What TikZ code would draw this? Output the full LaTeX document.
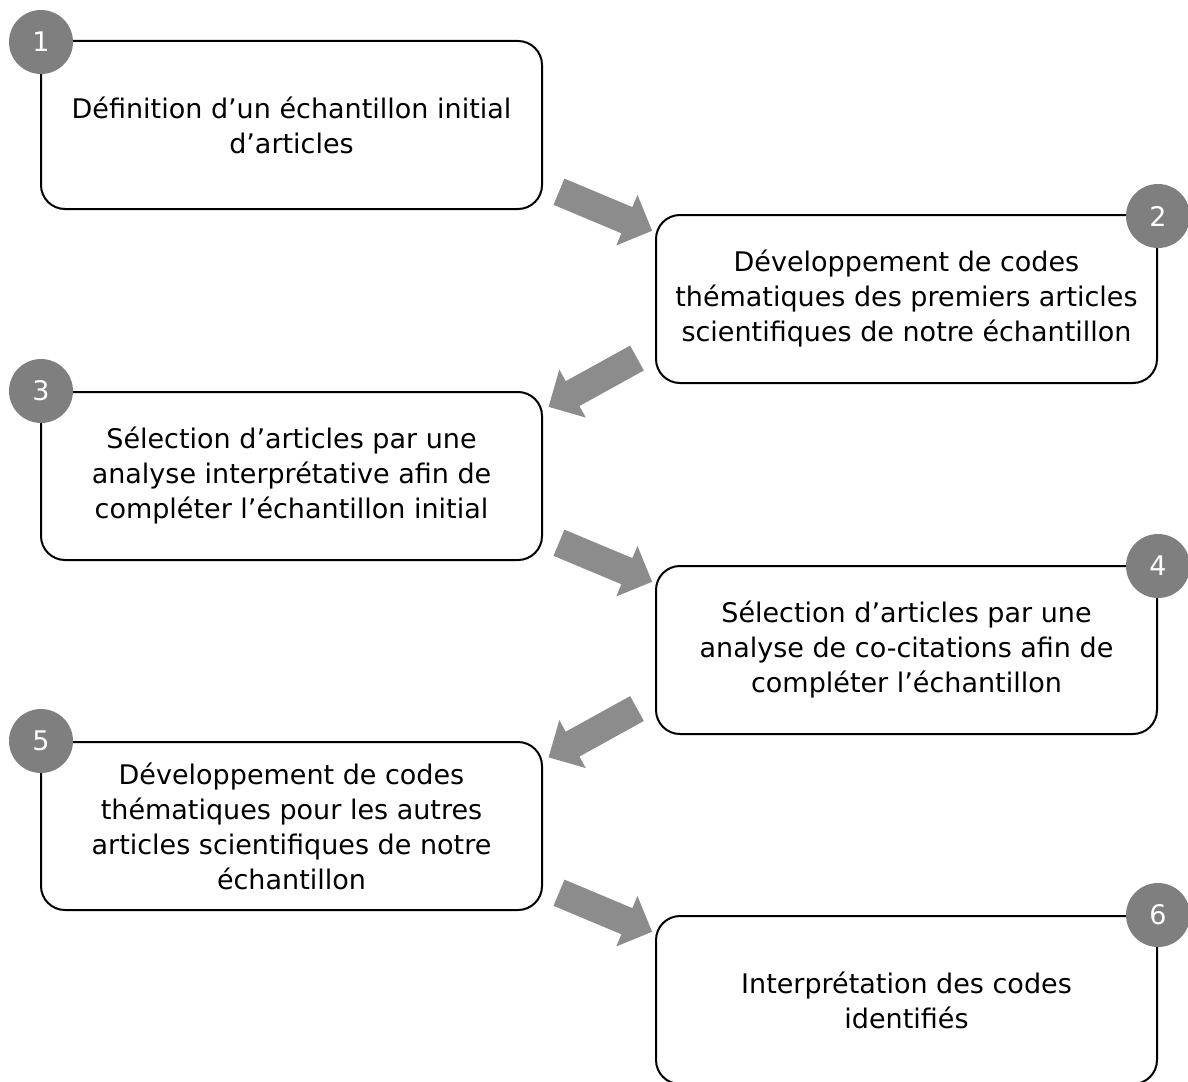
\documentclass[tikz,border=0pt]{standalone}
\usepackage{fontspec}
\setmainfont{DejaVu Sans}
\usepackage{tikz}
\usetikzlibrary{shapes.arrows, calc}
\definecolor{dotgray}{HTML}{7F7F7F}
\definecolor{arrowgray}{HTML}{8C8C8C}

\begin{document}
\begin{tikzpicture}[x=0.5pt, y=-0.5pt,
    stepbox/.style={rectangle, draw, line width=1pt, rounded corners=12pt, minimum width=250.5pt, minimum height=84pt, inner sep=0pt, align=center, font=\fontsize{13.5}{17.5}\selectfont},
    numdot/.style={circle, fill=dotgray, text=white, minimum size=32pt, inner sep=0pt, font=\fontsize{13.5}{16}\selectfont},
    flowarrow/.style={single arrow, fill=arrowgray, minimum height=50.5pt, minimum width=27pt, single arrow head extend=6.6pt, inner xsep=0pt, inner ysep=6.9pt, rotate=#1}]
            \useasboundingbox (0,0) rectangle (1188,1081);
            % steps
            \node[stepbox] (box1) at (291.5,125) {D\'efinition d’un \'echantillon initial\\d’articles};
            \node[stepbox] (box2) at (906.5,299) {D\'eveloppement de codes\\th\'ematiques des premiers articles\\scientifiques de notre \'echantillon};
            \node[stepbox] (box3) at (291.5,476) {S\'election d’articles par une\\analyse interpr\'etative afin de\\compl\'eter l’\'echantillon initial};
            \node[stepbox] (box4) at (906.5,650) {S\'election d’articles par une\\analyse de co-citations afin de\\compl\'eter l’\'echantillon};
            \node[stepbox] (box5) at (291.5,826) {D\'eveloppement de codes\\th\'ematiques pour les autres\\articles scientifiques de notre\\\'echantillon};
            \node[stepbox] (box6) at (906.5,1000) {Interpr\'etation des codes\\identifi\'es};
            % numbers
            \node[numdot] (dot1) at ([shift={(1,2)}]box1.north west) {1};
            \node[numdot] (dot2) at ([shift={(0,2)}]box2.north east) {2};
            \node[numdot] (dot3) at ([shift={(1,0)}]box3.north west) {3};
            \node[numdot] (dot4) at ([shift={(0,1)}]box4.north east) {4};
            \node[numdot] (dot5) at ([shift={(1,0)}]box5.north west) {5};
            \node[numdot] (dot6) at (box6.north east) {6};
            % arrows
            \node[flowarrow=-22.75] (arr12) at ([yshift=1.75pt]$(box1.east)!.5!(box2.west)$) {};
            \node[flowarrow=208.9] (arr23) at ([yshift=4.25pt]$(box2.west)!.5!(box3.east)$) {};
            \node[flowarrow=-22.75] (arr34) at ([yshift=1.75pt]$(box3.east)!.5!(box4.west)$) {};
            \node[flowarrow=208.9] (arr45) at ([yshift=4.25pt]$(box4.west)!.5!(box5.east)$) {};
            \node[flowarrow=-22.75] (arr56) at ([yshift=1.75pt]$(box5.east)!.5!(box6.west)$) {};
        \end{tikzpicture}
\end{document}
